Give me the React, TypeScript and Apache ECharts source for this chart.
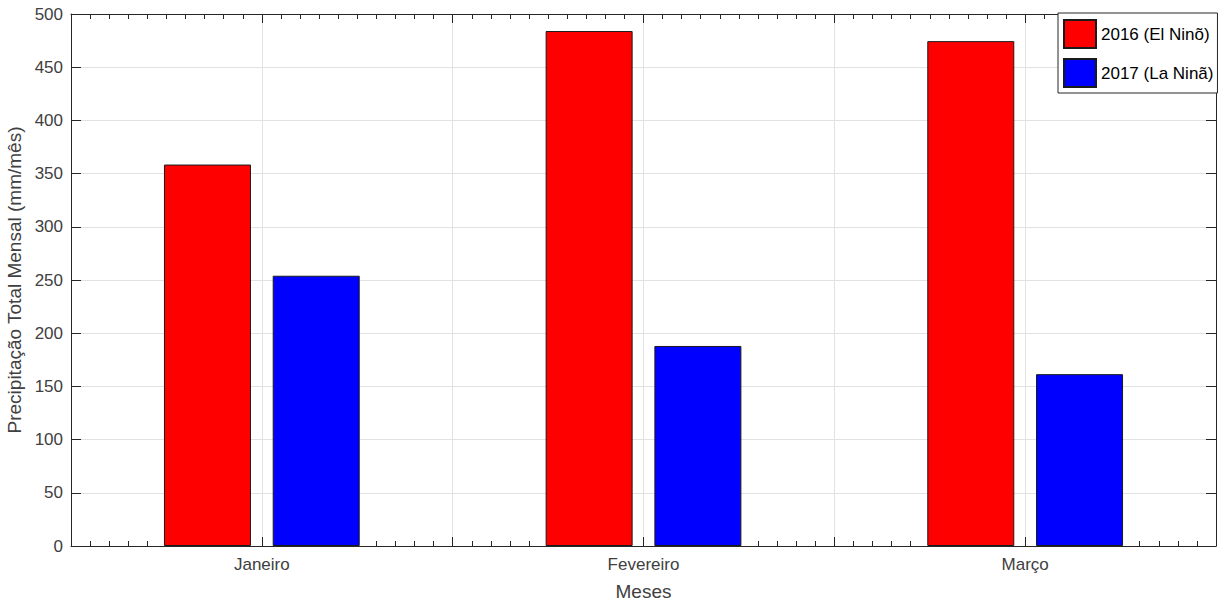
import React, { useEffect, useRef } from "react";
import * as echarts from "echarts";

const months = ["Janeiro", "Fevereiro", "Março"];
const seriesNames = ["2016 (El Ninõ)", "2017 (La Ninã)"];
const values2016 = [358.5, 484, 474.5];
const values2017 = [254, 188, 161.5];
const yTicks = [0, 50, 100, 150, 200, 250, 300, 350, 400, 450, 500];

const FONT = "Liberation Sans, Arial, Helvetica, sans-serif";
const AXIS = "#262626";
const TXT = "#404040";
const GRID = "#e2e2e2";

export default function App() {
  const ref = useRef<HTMLDivElement>(null);
  useEffect(() => {
    if (!ref.current) return;
    const chart = echarts.init(ref.current, undefined, { renderer: "svg" });
    const monthAt = (v: number) => {
      const i = Math.round(v) - 1;
      return Math.abs(v - Math.round(v)) < 1e-6 && i >= 0 && i < months.length ? months[i] : "";
    };
    const valueX = (pos: "bottom" | "top", labels: boolean) => ({
      type: "value",
      position: pos,
      min: 0.5,
      max: 3.5,
      interval: 0.5,
      axisLine: { show: true, onZero: false, lineStyle: { color: AXIS, width: 1 } },
      axisTick: { show: true, inside: true, length: 9, lineStyle: { color: AXIS } },
      minorTick: { show: true, splitNumber: 10, length: 5, lineStyle: { color: AXIS } },
      splitLine: { show: pos === "bottom", lineStyle: { color: GRID, width: 1 } },
      axisLabel: labels
        ? { show: true, formatter: (v: number) => monthAt(v), color: TXT, fontSize: 17, fontFamily: FONT, margin: 10 }
        : { show: false },
      name: labels ? "Meses" : "",
      nameLocation: "middle",
      nameGap: 36,
      nameTextStyle: { color: TXT, fontSize: 19, fontFamily: FONT },
    });
    const valueY = (pos: "left" | "right", labels: boolean) => ({
      type: "value",
      position: pos,
      min: 0,
      max: 500,
      interval: 50,
      axisLine: { show: true, lineStyle: { color: AXIS, width: 1 } },
      axisTick: { show: true, inside: true, length: 10, lineStyle: { color: AXIS } },
      splitLine: { show: pos === "left", lineStyle: { color: GRID, width: 1 } },
      axisLabel: labels
        ? {
            show: true,
            color: TXT,
            fontSize: 17,
            fontFamily: FONT,
            margin: 8,
            formatter: (v: number) => (yTicks.includes(v) ? String(v) : ""),
          }
        : { show: false },
      name: labels ? "Precipitação Total Mensal (mm/mês)" : "",
      nameLocation: "middle",
      nameGap: 41,
      nameTextStyle: { color: TXT, fontSize: 19, fontFamily: FONT },
    });
    chart.setOption({
      animation: false,
      backgroundColor: "#ffffff",
      grid: { left: 71, right: 8, top: 14, bottom: 62, containLabel: false, outerBoundsMode: "none" },
      legend: {
        show: true,
        orient: "vertical",
        left: 1058,
        top: 13,
        padding: [6, 4, 5, 5],
        itemGap: 9,
        itemWidth: 32,
        itemHeight: 28,
        icon: "rect",
        backgroundColor: "#ffffff",
        borderColor: AXIS,
        borderWidth: 1,
        textStyle: { color: "#000", fontSize: 17, fontFamily: FONT },
        data: seriesNames,
        z: 10,
      },
      xAxis: [
        { type: "category", data: months, show: false, boundaryGap: true },
        valueX("bottom", true),
        valueX("top", false),
      ],
      yAxis: [valueY("left", true), valueY("right", false)],
      series: [
        {
          name: seriesNames[0],
          type: "bar",
          xAxisIndex: 0,
          yAxisIndex: 0,
          data: values2016,
          barWidth: 87,
          barGap: "25%",
          itemStyle: { color: "#ff0000", borderColor: "#1a1a1a", borderWidth: 1 },
        },
        {
          name: seriesNames[1],
          type: "bar",
          xAxisIndex: 0,
          yAxisIndex: 0,
          data: values2017,
          barWidth: 87,
          barGap: "25%",
          itemStyle: { color: "#0000ff", borderColor: "#1a1a1a", borderWidth: 1 },
        },
      ],
    });
    return () => chart.dispose();
  }, []);
  return (
    <div
      ref={ref}
      style={{ position: "fixed", left: 0, top: 0, width: 1224, height: 608, background: "#fff" }}
    />
  );
}
